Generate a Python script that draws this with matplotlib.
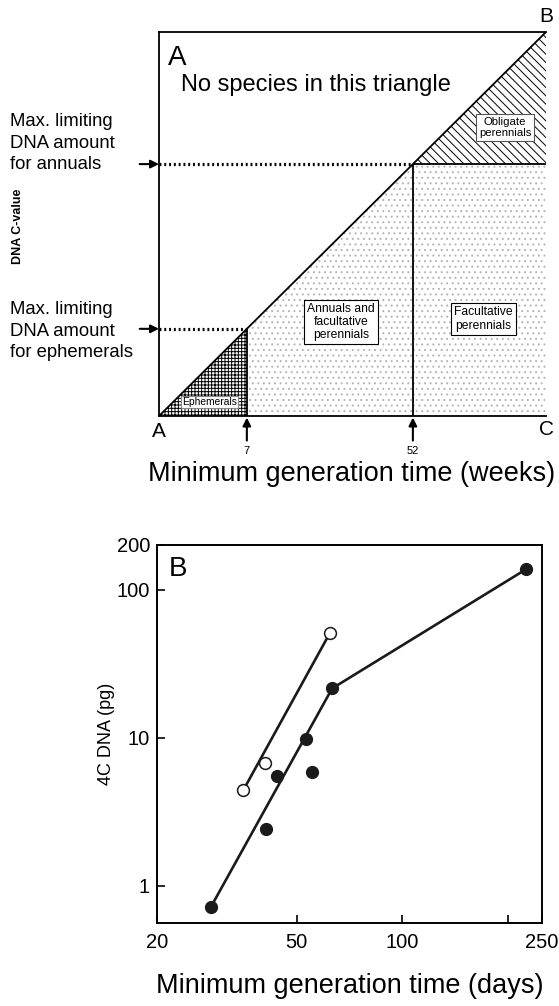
import matplotlib
matplotlib.use('Agg')
import matplotlib.pyplot as plt
from matplotlib.patches import Polygon

plt.rcParams['font.family'] = ['Liberation Sans', 'DejaVu Sans']
plt.rcParams['hatch.linewidth'] = 0.7

# Panel A: schematic, both axes run from 0 to 1
week_labels = ['7', '52']
week_pos = [0.227, 0.656]   # 7-week and 52-week limits on the schematic axis

# Panel B: 4C DNA (pg) against minimum generation time (days)
filled_days = [28.5, 40.9, 44.0, 53.2, 55.3, 63.1, 225]
filled_dna = [0.72, 2.42, 5.48, 9.8, 5.83, 21.5, 137]
filled_line_days = [28.5, 63.1, 225]
filled_line_dna = [0.72, 21.5, 137]
open_days = [35.2, 40.6, 62.2]
open_dna = [4.4, 6.7, 51]
open_line_days = [35.2, 62.2]
open_line_dna = [4.4, 51]

W, H = 559, 1006
fig = plt.figure(figsize=(W / 100, H / 100), dpi=100)


def fx(px):
    return px / W


def fy(py):
    return 1 - py / H


# ---------------- panel A ----------------
ax = fig.add_axes([fx(159), fy(416), 387 / W, 384 / H])
ax.set_xlim(0, 1)
ax.set_ylim(0, 1)
ax.set_xticks([])
ax.set_yticks([])
ax.spines['right'].set_visible(False)
for s in ['left', 'bottom', 'top']:
    ax.spines[s].set_linewidth(1.3)

e, a = week_pos

# shaded regions
ax.add_patch(Polygon([(0, 0), (e, 0), (e, e)], closed=True, facecolor='white',
                     edgecolor='black', hatch='+++++', lw=0))
ax.add_patch(Polygon([(e, 0), (1, 0), (1, a), (a, a), (e, e)], closed=True,
                     facecolor='white', edgecolor='#b4b4b4', hatch='...', lw=0))
ax.add_patch(Polygon([(a, a), (1, a), (1, 1)], closed=True, facecolor='white',
                     edgecolor='black', hatch='\\\\\\\\', lw=0))

lk = dict(color='black', lw=1.3, solid_capstyle='butt')
ax.plot([0, 1], [0, 1], **lk)
ax.plot([a, 1], [a, a], **lk)
ax.plot([a, a], [0, a], **lk)
ax.plot([e, e], [0, e], **lk)
ax.plot([0, a], [a, a], color='black', lw=2.3, linestyle=(0, (0.6, 0.9)))
ax.plot([0, e], [e, e], color='black', lw=2.3, linestyle=(0, (0.6, 0.9)))

ax.text(0.023, 0.966, 'A', fontsize=20, ha='left', va='top')
ax.text(0.057, 0.862, 'No species in this triangle', fontsize=17, ha='left', va='center')

box = dict(boxstyle='square,pad=0.25', fc='white', ec='black', lw=0.8)
ax.text(0.130, 0.036, 'Ephemerals', fontsize=7.4, ha='center', va='center',
        bbox=dict(boxstyle='square,pad=0.1', fc='white', ec='#888888', lw=0.8))
ax.text(0.470, 0.245, 'Annuals and\nfacultative\nperennials', fontsize=8.7,
        ha='center', va='center', multialignment='center', linespacing=1.15, bbox=box)
ax.text(0.838, 0.253, 'Facultative\nperennials', fontsize=8.7,
        ha='center', va='center', multialignment='center', linespacing=1.15, bbox=box)
ax.text(0.894, 0.751, 'Obligate\nperennials', fontsize=8.2,
        ha='center', va='center', multialignment='center', linespacing=1.15,
        bbox=dict(boxstyle='square,pad=0.25', fc='white', ec='#555555', lw=0.8))

# corner letters
ax.annotate('A', xy=(0, 0), xytext=(0, -11), textcoords='offset points',
            ha='center', va='center', fontsize=15, annotation_clip=False)
ax.annotate('C', xy=(1, 0), xytext=(0, -10), textcoords='offset points',
            ha='center', va='center', fontsize=15, annotation_clip=False)
ax.annotate('B', xy=(1, 1), xytext=(0, 11), textcoords='offset points',
            ha='center', va='center', fontsize=15, annotation_clip=False)

arrow = dict(arrowstyle='-|>', color='black', lw=1.5, mutation_scale=12,
             shrinkA=0, shrinkB=0)
# arrows under the x axis at the week limits
for pos, lab in zip(week_pos, week_labels):
    ax.annotate('', xy=(pos, -0.004), xytext=(pos, -0.064),
                arrowprops=arrow, annotation_clip=False)
    ax.annotate(lab, xy=(pos, 0), xytext=(0, -25), textcoords='offset points',
                ha='center', va='center', fontsize=8, annotation_clip=False)

# arrows pointing at the DNA limits on the y axis
for lev in week_pos:
    ax.annotate('', xy=(0, lev), xytext=(-0.05, lev), arrowprops=arrow,
                annotation_clip=False)

fig.text(fx(10), fy(143), 'Max. limiting\nDNA amount\nfor annuals', fontsize=13.3,
         ha='left', va='center', linespacing=1.32)
fig.text(fx(10), fy(331), 'Max. limiting\nDNA amount\nfor ephemerals', fontsize=13.3,
         ha='left', va='center', linespacing=1.32)
fig.text(fx(18), fy(226), 'DNA C-value', fontsize=9, fontweight='bold',
         rotation=90, ha='center', va='center')
fig.text(fx(352), fy(481), 'Minimum generation time (weeks)', fontsize=19.5,
         ha='center', va='baseline')

# ---------------- panel B ----------------
bx = fig.add_axes([fx(157), fy(923), 385 / W, 378 / H])
bx.set_xscale('log')
bx.set_yscale('log')
bx.set_xlim(20, 250)
bx.set_ylim(0.56, 200)

bx.plot(filled_line_days, filled_line_dna, color='#1a1a1a', lw=1.9, zorder=2)
bx.plot(open_line_days, open_line_dna, color='#1a1a1a', lw=1.9, zorder=2)
bx.plot(filled_days, filled_dna, 'o', ms=8.5, mfc='#1a1a1a', mec='#1a1a1a', zorder=3)
bx.plot(open_days, open_dna, 'o', ms=8.5, mfc='white', mec='#1a1a1a', mew=1.1, zorder=3)

bx.set_xticks([20, 50, 100, 200, 250])
bx.set_xticklabels(['20', '50', '100', '', '250'])
bx.set_yticks([1, 10, 100, 200])
bx.set_yticklabels(['1', '10', '100', '200'])
bx.minorticks_off()
bx.tick_params(direction='in', length=5.5, width=1.2, labelsize=14.5)
bx.tick_params(axis='x', pad=7)
bx.tick_params(axis='y', pad=5)
for s in bx.spines.values():
    s.set_linewidth(1.4)

bx.text(0.03, 0.97, 'B', transform=bx.transAxes, fontsize=20, ha='left', va='top')
bx.set_ylabel('4C DNA (pg)', fontsize=13)
bx.yaxis.set_label_coords(-0.109, 0.5)
fig.text(fx(350), fy(993), 'Minimum generation time (days)', fontsize=19.5,
         ha='center', va='baseline')

fig.savefig('out.png', dpi=100)
